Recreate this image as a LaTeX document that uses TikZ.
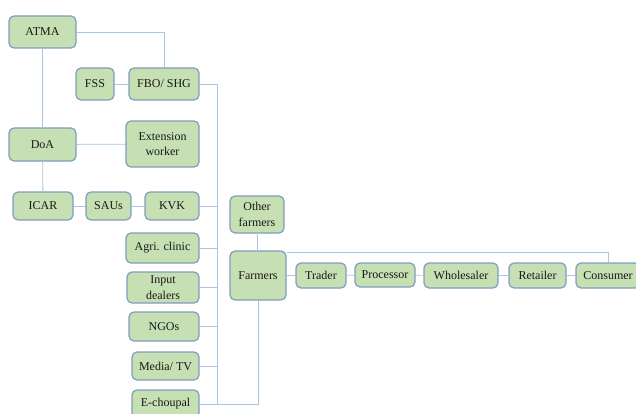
\documentclass[tikz,border=0pt]{standalone}
\usepackage{fontspec}
\setmainfont{Liberation Serif}
\usepackage{tikz}
\usetikzlibrary{positioning}
\definecolor{boxfill}{HTML}{C6DFB3}
\definecolor{boxline}{HTML}{7F9DC0}
\definecolor{linkline}{HTML}{A9C4E6}

\begin{document}
\begin{tikzpicture}[x=1pt, y=-1pt, font=\fontsize{12}{15.5}\selectfont,
                block/.style={rectangle, rounded corners=5pt, fill=boxfill, draw=boxline, line width=1.2pt, align=center, inner sep=1pt, text=black!90},
                link/.style={draw=linkline, line width=0.8pt}
            ]
            \useasboundingbox (0,0) rectangle (636,414);
            % left part
            \node[block, minimum width=67pt, minimum height=32pt] (atma) at (42.5,32) {ATMA};
            \node[block, minimum width=38pt, minimum height=32pt] (fss) at (95,84) {FSS};
            \node[block, minimum width=70pt, minimum height=32pt] (fbo) at (164,84) {FBO/ SHG};
            \node[block, minimum width=67pt, minimum height=33pt] (doa) at (42.5,144.5) {DoA};
            \node[block, minimum width=73pt, minimum height=46pt] (ext) at (162.5,144) {Extension\\worker};
            \node[block, minimum width=60pt, minimum height=28pt] (icar) at (43,206) {ICAR};
            \node[block, minimum width=45pt, minimum height=28pt] (saus) at (108.5,206) {SAUs};
            \node[block, minimum width=54pt, minimum height=28pt] (kvk) at (172,206) {KVK};
            \node[block, minimum width=73pt, minimum height=30pt] (agri) at (162.5,248) {Agri. clinic};
            \node[block, minimum width=72pt, minimum height=31pt] (input) at (163,287.5) {Input\\dealers};
            \node[block, minimum width=70pt, minimum height=29pt] (ngo) at (164,326.5) {NGOs};
            \node[block, minimum width=67pt, minimum height=28pt] (media) at (165.5,366) {Media/ TV};
            \node[block, minimum width=67pt, minimum height=28pt] (echoupal) at (165.5,404) {E-choupal};
            % farmers and chain
            \node[block, minimum width=54pt, minimum height=37pt] (other) at (257,214.5) {Other\\farmers};
            \node[block, minimum width=56pt, minimum height=49pt] (farmers) at (258,275.5) {Farmers};
            \node[block, minimum width=50pt, minimum height=25pt] (trader) at (321,275.5) {Trader};
            \node[block, minimum width=60pt, minimum height=24pt] (proc) at (385,275) {Processor};
            \node[block, minimum width=74pt, minimum height=25pt] (whole) at (461,275.5) {Wholesaler};
            \node[block, minimum width=57pt, minimum height=25pt] (retail) at (537.5,275.5) {Retailer};
            \node[block, minimum width=64pt, minimum height=25pt] (consumer) at (608,275.5) {Consumer};
            \coordinate (bus) at (217,84);
            % connectors
            \path[link] (atma.east) -| (fbo.north);
            \path[link] (atma) -- (doa);
            \path[link] (fss) -- (fbo);
            \path[link] (doa) -- (ext);
            \path[link] (doa) -- (icar);
            \path[link] (icar) -- (saus);
            \path[link] (saus) -- (kvk);
            \path[link] (fbo.east) -- (bus) |- (echoupal.east);
            \path[link] (kvk.east) -- (kvk.east -| bus);
            \path[link] (agri.east) -- (agri.east -| bus);
            \path[link] (input.east) -- (input.east -| bus);
            \path[link] (ngo.east) -- (ngo.east -| bus);
            \path[link] (media.east) -- (media.east -| bus);
            \path[link] (farmers.south) |- (echoupal.east);
            \path[link] (farmers) -- (other);
            \path[link] (farmers) -- (trader);
            \path[link] (trader) -- (proc);
            \path[link] (proc) -- (whole);
            \path[link] (whole) -- (retail);
            \path[link] (retail) -- (consumer);
            \path[link] ([yshift=-2pt]farmers.north east) -| (consumer.north);
        \end{tikzpicture}
\end{document}
